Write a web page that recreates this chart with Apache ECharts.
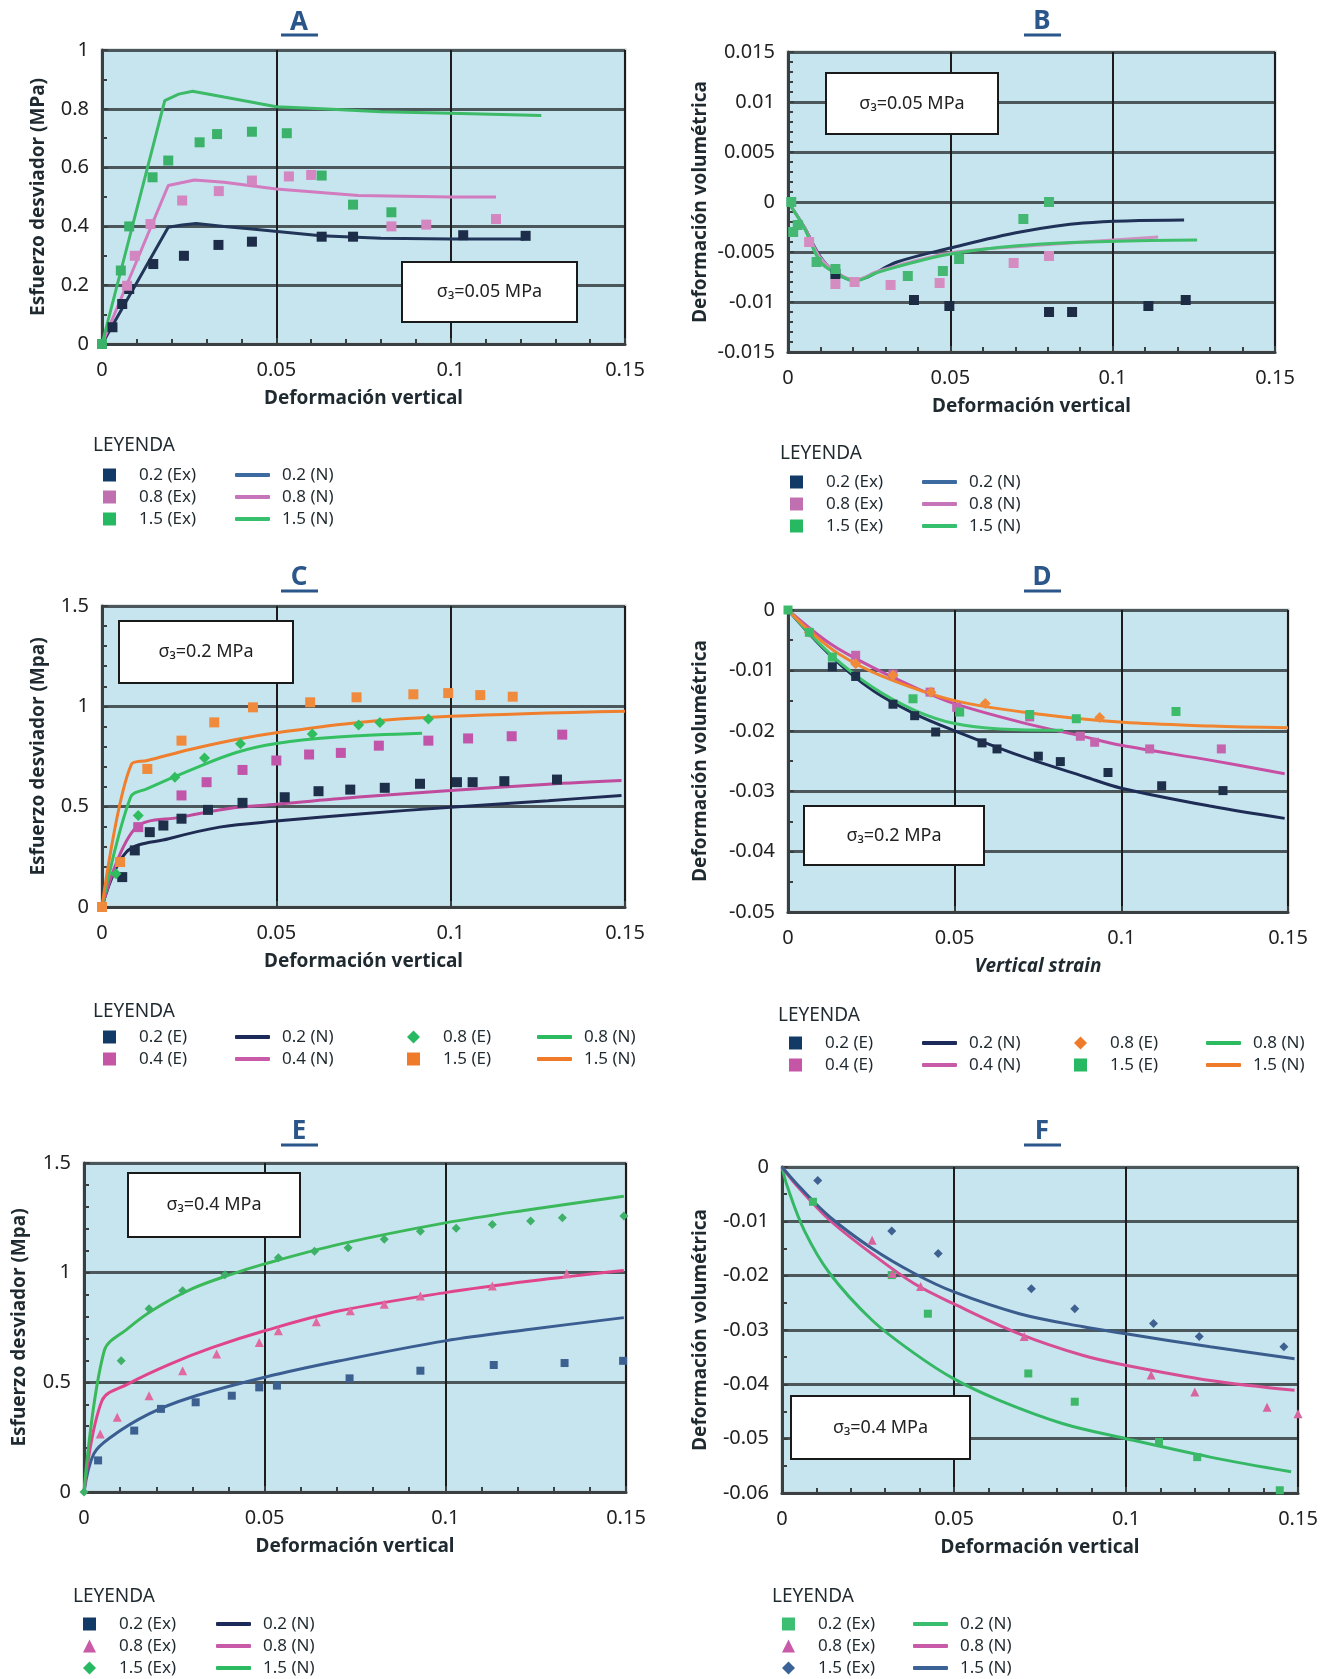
<!DOCTYPE html>
<html>
<head>
<meta charset="utf-8">
<script src="https://cdn.jsdelivr.net/npm/echarts@6/dist/echarts.min.js"></script>
<style>
  html, body { margin: 0; background: #fff; }
  #main { width: 1323px; height: 1679px; }
</style>
</head>
<body>
<div id="main"></div>
<script>
// ---------- tick values ----------
const xTicks = [0, 0.05, 0.1, 0.15];
const aYTicks = [0, 0.2, 0.4, 0.6, 0.8, 1];
const bYTicks = [-0.015, -0.01, -0.005, 0, 0.005, 0.01, 0.015];
const cYTicks = [0, 0.5, 1, 1.5];
const dYTicks = [-0.05, -0.04, -0.03, -0.02, -0.01, 0];
const eYTicks = [0, 0.5, 1, 1.5];
const fYTicks = [-0.06, -0.05, -0.04, -0.03, -0.02, -0.01, 0];

// ---------- A : deviator stress, s3 = 0.05 MPa ----------
const aEx02 = [[0.003,0.057],[0.0058,0.136],[0.0078,0.187],[0.0147,0.272],[0.0235,0.30],[0.0334,0.337],[0.043,0.348],[0.063,0.365],[0.072,0.365],[0.1036,0.37],[0.1215,0.368]];
const aEx08 = [[0.0072,0.198],[0.0094,0.30],[0.0139,0.408],[0.023,0.488],[0.0335,0.52],[0.043,0.556],[0.0536,0.57],[0.06,0.575],[0.083,0.40],[0.093,0.406],[0.113,0.425]];
const aEx15 = [[0,0],[0.0054,0.25],[0.0078,0.40],[0.0145,0.567],[0.019,0.624],[0.028,0.686],[0.033,0.714],[0.043,0.722],[0.053,0.717],[0.063,0.573],[0.072,0.474],[0.083,0.448]];
const aN02 = [[0,0],[0.019,0.397],[0.023,0.405],[0.027,0.41],[0.035,0.40],[0.043,0.391],[0.0627,0.368],[0.08,0.36],[0.1,0.357],[0.121,0.357]];
const aN08 = [[0,0],[0.019,0.539],[0.0265,0.558],[0.035,0.55],[0.05,0.527],[0.0735,0.505],[0.1,0.5],[0.113,0.5]];
const aN15 = [[0,0],[0.018,0.828],[0.022,0.85],[0.026,0.86],[0.035,0.84],[0.05,0.807],[0.063,0.80],[0.08,0.79],[0.1,0.785],[0.126,0.777]];

// ---------- B : volumetric strain, s3 = 0.05 MPa ----------
const bEx02 = [[0.0146,-0.0072],[0.0388,-0.0098],[0.0497,-0.0104],[0.0804,-0.011],[0.0875,-0.011],[0.111,-0.0104],[0.1225,-0.0098]];
const bEx08 = [[0.0065,-0.004],[0.0146,-0.0082],[0.0205,-0.008],[0.0316,-0.0083],[0.0467,-0.0081],[0.0695,-0.0061],[0.0804,-0.0054]];
const bEx15 = [[0.001,0],[0.0016,-0.003],[0.003,-0.0023],[0.0088,-0.006],[0.0146,-0.0067],[0.0369,-0.0074],[0.0477,-0.0069],[0.0527,-0.0057],[0.0725,-0.0017],[0.0804,0]];
const bN02 = [[0,0],[0.005,-0.0025],[0.01,-0.0055],[0.0153,-0.0072],[0.0205,-0.0078],[0.0336,-0.006],[0.05,-0.0046],[0.0715,-0.003],[0.091,-0.0021],[0.122,-0.0018]];
const bN08 = [[0,0],[0.005,-0.0025],[0.01,-0.0056],[0.0153,-0.0071],[0.0205,-0.0078],[0.028,-0.0069],[0.05,-0.0051],[0.078,-0.0043],[0.114,-0.0035]];
const bN15 = [[0,0],[0.005,-0.0026],[0.01,-0.006],[0.0153,-0.0072],[0.0205,-0.0079],[0.028,-0.007],[0.05,-0.0052],[0.078,-0.0042],[0.126,-0.0038]];

// ---------- C : deviator stress, s3 = 0.2 MPa ----------
const cE02 = [[0.0058,0.149],[0.0094,0.282],[0.0137,0.373],[0.0176,0.406],[0.0228,0.44],[0.0304,0.484],[0.0403,0.519],[0.0524,0.547],[0.0621,0.577],[0.0712,0.585],[0.0811,0.594],[0.0912,0.614],[0.1018,0.622],[0.1063,0.622],[0.1154,0.627],[0.1305,0.635]];
const cE04 = [[0.0104,0.398],[0.0228,0.556],[0.030,0.622],[0.0403,0.683],[0.050,0.73],[0.0594,0.76],[0.0685,0.768],[0.0794,0.804],[0.0936,0.829],[0.105,0.84],[0.1175,0.851],[0.132,0.859]];
const cE08 = [[0.004,0.166],[0.0104,0.456],[0.0209,0.647],[0.0294,0.743],[0.0397,0.813],[0.0603,0.862],[0.0736,0.907],[0.0797,0.92],[0.0936,0.937]];
const cE15 = [[0,0],[0.0052,0.224],[0.013,0.688],[0.0228,0.829],[0.0322,0.92],[0.0433,0.995],[0.0597,1.02],[0.073,1.045],[0.0893,1.06],[0.0993,1.066],[0.1085,1.056],[0.1178,1.048]];
const cN02 = [[0,0],[0.007,0.274],[0.0191,0.34],[0.0337,0.398],[0.05,0.428],[0.0748,0.465],[0.1,0.497],[0.128,0.53],[0.149,0.556]];
const cN04 = [[0,0],[0.0094,0.39],[0.0228,0.448],[0.036,0.49],[0.05,0.512],[0.0736,0.548],[0.1,0.58],[0.128,0.612],[0.149,0.63]];
const cN08 = [[0,0],[0.0082,0.547],[0.013,0.59],[0.025,0.68],[0.0385,0.77],[0.05,0.815],[0.0676,0.847],[0.0918,0.866]];
const cN15 = [[0,0],[0.0085,0.713],[0.013,0.73],[0.0252,0.785],[0.0385,0.835],[0.05,0.868],[0.0736,0.92],[0.1,0.95],[0.15,0.975]];

// ---------- D : volumetric strain, s3 = 0.2 MPa ----------
const dE02 = [[0.0133,-0.0094],[0.0203,-0.011],[0.0315,-0.0156],[0.038,-0.0175],[0.0443,-0.0202],[0.0582,-0.022],[0.0627,-0.023],[0.0751,-0.0242],[0.0817,-0.0251],[0.096,-0.0269],[0.1121,-0.0291],[0.1305,-0.0299]];
const dE04 = [[0.0203,-0.0075],[0.0315,-0.0106],[0.0426,-0.0136],[0.0506,-0.0161],[0.0725,-0.0177],[0.0877,-0.0209],[0.092,-0.0219],[0.1085,-0.023],[0.130,-0.023]];
const dE08 = [[0.0064,-0.0037],[0.0203,-0.0089],[0.0315,-0.0108],[0.0429,-0.0136],[0.0592,-0.0155],[0.0935,-0.0178]];
const dE15 = [[0,0],[0.0064,-0.0037],[0.0133,-0.0078],[0.0375,-0.0147],[0.0515,-0.0169],[0.0725,-0.0173],[0.0865,-0.018],[0.1164,-0.0168]];
const dN02 = [[0,0],[0.0127,-0.0075],[0.0254,-0.0133],[0.038,-0.0172],[0.05,-0.020],[0.07,-0.0242],[0.089,-0.0276],[0.1,-0.0295],[0.127,-0.0325],[0.149,-0.0345]];
const dN04 = [[0,0],[0.0127,-0.0056],[0.0254,-0.0095],[0.038,-0.0128],[0.05,-0.0155],[0.07,-0.0186],[0.089,-0.021],[0.1,-0.0224],[0.127,-0.0249],[0.149,-0.0271]];
const dN08 = [[0,0],[0.0127,-0.0073],[0.0254,-0.0128],[0.038,-0.0166],[0.05,-0.0188],[0.0636,-0.0197],[0.0826,-0.0199]];
const dN15 = [[0,0],[0.0064,-0.0034],[0.0153,-0.0073],[0.028,-0.0109],[0.05,-0.015],[0.0763,-0.0173],[0.1005,-0.0186],[0.127,-0.0192],[0.15,-0.0195]];

// ---------- E : deviator stress, s3 = 0.4 MPa ----------
const eEx02 = [[0.0039,0.144],[0.0139,0.28],[0.0213,0.379],[0.0309,0.409],[0.0409,0.439],[0.0485,0.477],[0.0534,0.485],[0.0735,0.518],[0.0931,0.553],[0.1134,0.579],[0.133,0.588],[0.1492,0.598]];
const eEx08 = [[0.0045,0.265],[0.0092,0.341],[0.018,0.439],[0.0273,0.553],[0.0367,0.629],[0.0485,0.682],[0.0538,0.735],[0.0643,0.776],[0.0737,0.826],[0.0831,0.856],[0.0931,0.894],[0.113,0.939],[0.1336,0.995]];
const eEx15 = [[0,0],[0.0103,0.598],[0.018,0.836],[0.0273,0.917],[0.039,0.99],[0.0538,1.068],[0.0638,1.098],[0.0731,1.114],[0.0831,1.152],[0.0931,1.189],[0.103,1.202],[0.113,1.22],[0.1236,1.235],[0.1324,1.25],[0.1494,1.258]];
const eN02 = [[0,0],[0.0027,0.174],[0.0074,0.25],[0.018,0.356],[0.0297,0.432],[0.05,0.523],[0.0708,0.598],[0.1,0.689],[0.1236,0.742],[0.1494,0.795]];
const eN08 = [[0,0],[0.005,0.417],[0.0121,0.492],[0.0238,0.583],[0.0356,0.659],[0.05,0.735],[0.0708,0.826],[0.1,0.909],[0.1236,0.962],[0.1494,1.01]];
const eN15 = [[0,0],[0.0056,0.644],[0.0121,0.745],[0.0191,0.83],[0.0297,0.925],[0.0403,0.99],[0.05,1.04],[0.0708,1.13],[0.1,1.227],[0.1236,1.288],[0.1494,1.348]];

// ---------- F : volumetric strain, s3 = 0.4 MPa ----------
const fEx02 = [[0.009,-0.0064],[0.0319,-0.0199],[0.0424,-0.027],[0.0716,-0.038],[0.0851,-0.0432],[0.1096,-0.0506],[0.1207,-0.0534],[0.1447,-0.0595]];
const fEx08 = [[0.0262,-0.0135],[0.0321,-0.0196],[0.0403,-0.022],[0.0704,-0.0312],[0.1073,-0.0383],[0.12,-0.0414],[0.141,-0.0442],[0.15,-0.0454]];
const fEx15 = [[0.0104,-0.0025],[0.0319,-0.0118],[0.0454,-0.0159],[0.0725,-0.0224],[0.0851,-0.0261],[0.108,-0.0288],[0.1213,-0.0312],[0.1459,-0.0331]];
const fN02 = [[0,0],[0.0016,-0.0037],[0.0065,-0.0117],[0.0139,-0.0196],[0.0262,-0.0282],[0.0385,-0.0343],[0.05,-0.039],[0.063,-0.0429],[0.0815,-0.0472],[0.1,-0.05],[0.1245,-0.0534],[0.148,-0.0561]];
const fN08 = [[0,0],[0.004,-0.0032],[0.0139,-0.0098],[0.0262,-0.016],[0.0385,-0.0215],[0.05,-0.0252],[0.069,-0.0307],[0.0876,-0.0347],[0.1,-0.0365],[0.1245,-0.0393],[0.149,-0.0411]];
const fN15 = [[0,0],[0.0053,-0.0038],[0.0139,-0.0092],[0.0262,-0.015],[0.0385,-0.0196],[0.05,-0.023],[0.069,-0.027],[0.0876,-0.0294],[0.1,-0.0307],[0.1245,-0.0331],[0.149,-0.0353]];

// ---------- layout ----------
const FONT = 'Noto Sans';
const INK = '#1f2a30';
const TITLE_BLUE = '#2a568a';

const panels = [
  { key: 'A', grid: [102, 50, 523, 294], yTicks: aYTicks, yMinor: 2, xMinor: 5, xName: 'Deformación vertical', yName: 'Esfuerzo desviador (MPa)', yGap: 54 },
  { key: 'B', grid: [788, 52, 487, 300], yTicks: bYTicks, yMinor: 5, xMinor: 5, xName: 'Deformación vertical', yName: 'Deformación volumétrica', yGap: 78 },
  { key: 'C', grid: [102, 606, 523, 301], yTicks: cYTicks, yMinor: 5, xMinor: 0, xName: 'Deformación vertical', yName: 'Esfuerzo desviador (Mpa)', yGap: 54 },
  { key: 'D', grid: [788, 610, 500, 302], yTicks: dYTicks, yMinor: 2, xMinor: 0, xName: 'Vertical strain', italic: true, yName: 'Deformación volumétrica', yGap: 78 },
  { key: 'E', grid: [84, 1163, 542, 329], yTicks: eYTicks, yMinor: 5, xMinor: 5, xName: 'Deformación vertical', yName: 'Esfuerzo desviador (Mpa)', yGap: 55 },
  { key: 'F', grid: [782, 1167, 516, 326], yTicks: fYTicks, yMinor: 2, xMinor: 5, xName: 'Deformación vertical', yName: 'Deformación volumétrica', yGap: 72 }
];

const axisDark = '#3a3f42';

const grids = panels.map(p => ({
  left: p.grid[0], top: p.grid[1], width: p.grid[2], height: p.grid[3],
  show: true, backgroundColor: '#c7e5ee', borderColor: '#c2cacc', borderWidth: 3
}));

const xAxes = panels.map((p, i) => ({
  type: 'value', gridIndex: i,
  min: xTicks[0], max: xTicks[xTicks.length - 1], interval: +(xTicks[1] - xTicks[0]).toFixed(6),
  name: p.xName, nameLocation: 'middle', nameGap: 45,
  nameTextStyle: { fontFamily: FONT, fontSize: 19, fontWeight: 'bold', fontStyle: p.italic ? 'italic' : 'normal', color: INK },
  axisLine: { onZero: false, lineStyle: { color: axisDark, width: 3 } },
  axisTick: { show: true, inside: true, length: 6, lineStyle: { color: axisDark, width: 2 } },
  minorTick: { show: p.xMinor > 0, splitNumber: p.xMinor || 5, length: 5, lineStyle: { color: axisDark, width: 2 } },
  axisLabel: { margin: 16, fontFamily: FONT, fontSize: 20, color: '#222' },
  splitLine: { show: true, lineStyle: { color: '#1c1c1c', width: 2 } }
}));

const yAxes = panels.map((p, i) => ({
  type: 'value', gridIndex: i,
  min: p.yTicks[0], max: p.yTicks[p.yTicks.length - 1], interval: +(p.yTicks[1] - p.yTicks[0]).toFixed(6),
  name: p.yName, nameLocation: 'middle', nameGap: p.yGap, nameRotate: 90,
  nameTextStyle: { fontFamily: FONT, fontSize: 19, fontWeight: 'bold', color: INK },
  axisLine: { onZero: false, lineStyle: { color: axisDark, width: 3 } },
  axisTick: { show: true, inside: true, length: 6, lineStyle: { color: axisDark, width: 2 } },
  minorTick: { show: true, splitNumber: p.yMinor, length: 5, lineStyle: { color: axisDark, width: 2 } },
  axisLabel: { margin: 13, fontFamily: FONT, fontSize: 20, color: '#222' },
  splitLine: { show: true, lineStyle: { color: '#4c575b', width: 3 } }
}));

// ---------- series ----------
function pts(g, label, data, color, symbol, size) {
  return { type: 'scatter', name: panels[g].key + '|' + label, xAxisIndex: g, yAxisIndex: g,
    data: data, symbol: symbol, symbolSize: size, itemStyle: { color: color, opacity: 1 }, z: 3 };
}
function curve(g, label, data, color, smooth) {
  return { type: 'line', name: panels[g].key + '|' + label, xAxisIndex: g, yAxisIndex: g,
    data: data, symbol: 'none', showSymbol: false, smooth: smooth,
    lineStyle: { color: color, width: 3 }, itemStyle: { color: color }, z: 2 };
}

const S = 0.35;
const series = [
  // A
  curve(0, '0.2 (N)', aN02, '#22365a', false),
  curve(0, '0.8 (N)', aN08, '#d27bbf', false),
  curve(0, '1.5 (N)', aN15, '#3cba68', false),
  pts(0, '0.2 (Ex)', aEx02, '#1d2c48', 'rect', 10),
  pts(0, '0.8 (Ex)', aEx08, '#d386c0', 'rect', 10),
  pts(0, '1.5 (Ex)', aEx15, '#3ab26a', 'rect', 10),
  // B
  curve(1, '0.2 (N)', bN02, '#203258', S),
  curve(1, '0.8 (N)', bN08, '#cf8fc2', S),
  curve(1, '1.5 (N)', bN15, '#3fbf6c', S),
  pts(1, '0.2 (Ex)', bEx02, '#1d2c45', 'rect', 10),
  pts(1, '0.8 (Ex)', bEx08, '#d58cc0', 'rect', 10),
  pts(1, '1.5 (Ex)', bEx15, '#44b872', 'rect', 10),
  // C
  curve(2, '0.2 (N)', cN02, '#1f2b52', S),
  curve(2, '0.4 (N)', cN04, '#c04a9c', S),
  curve(2, '0.8 (N)', cN08, '#34c062', S),
  curve(2, '1.5 (N)', cN15, '#ef7f2d', S),
  pts(2, '0.2 (E)', cE02, '#1e2f4a', 'rect', 10),
  pts(2, '0.4 (E)', cE04, '#c055aa', 'rect', 10),
  pts(2, '0.8 (E)', cE08, '#2fbd5f', 'diamond', 11),
  pts(2, '1.5 (E)', cE15, '#f08a3c', 'rect', 10),
  // D
  curve(3, '0.2 (N)', dN02, '#1e2d55', S),
  curve(3, '0.4 (N)', dN04, '#c850a4', S),
  curve(3, '0.8 (N)', dN08, '#3fc26c', S),
  curve(3, '1.5 (N)', dN15, '#f0842f', S),
  pts(3, '0.2 (E)', dE02, '#1e2f4a', 'rect', 9),
  pts(3, '0.4 (E)', dE04, '#c465ae', 'rect', 9),
  pts(3, '0.8 (E)', dE08, '#f08a3a', 'diamond', 11),
  pts(3, '1.5 (E)', dE15, '#3cbc6a', 'rect', 9),
  // E
  curve(4, '0.2 (N)', eN02, '#3b5e92', S),
  curve(4, '0.8 (N)', eN08, '#e0458c', S),
  curve(4, '1.5 (N)', eN15, '#3bb95a', S),
  pts(4, '0.2 (Ex)', eEx02, '#3c6190', 'rect', 8),
  pts(4, '0.8 (Ex)', eEx08, '#e06aa0', 'triangle', 9),
  pts(4, '1.5 (Ex)', eEx15, '#3cb167', 'diamond', 9),
  // F
  curve(5, '0.2 (N)', fN02, '#35b866', S),
  curve(5, '0.8 (N)', fN08, '#d64f94', S),
  curve(5, '1.5 (N)', fN15, '#3b5d8e', S),
  pts(5, '0.2 (Ex)', fEx02, '#3cb868', 'rect', 8),
  pts(5, '0.8 (Ex)', fEx08, '#d8649e', 'triangle', 9),
  pts(5, '1.5 (Ex)', fEx15, '#3f6192', 'diamond', 9)
];

// ---------- legends ----------
function legendCol(key, left, rowTop, labels, colors, icons, isLine) {
  return {
    left: left, top: rowTop - 11, orient: 'vertical', padding: 0, itemGap: 0,
    selectedMode: false,
    itemWidth: isLine ? 35 : 13, itemHeight: isLine ? 4 : 13,
    icon: isLine ? 'roundRect' : 'rect',
    data: labels.map((l, i) => ({ name: key + '|' + l, icon: icons ? icons[i] : undefined, itemStyle: { color: colors[i] } })),
    formatter: n => n.split('|')[1],
    textStyle: { fontFamily: FONT, fontSize: 17, color: INK, lineHeight: 22, padding: [0, 0, 0, isLine ? 7 : 18] }
  };
}
const exLabels = ['0.2 (Ex)', '0.8 (Ex)', '1.5 (Ex)'];
const nLabels = ['0.2 (N)', '0.8 (N)', '1.5 (N)'];
const legends = [
  legendCol('A', 103, 475, exLabels, ['#123a66', '#c070b0', '#27b862'], null, false),
  legendCol('A', 235, 475, nLabels, ['#3d6aa0', '#c775ba', '#36c06e'], null, true),
  legendCol('B', 790, 482, exLabels, ['#123a66', '#c070b0', '#27b862'], null, false),
  legendCol('B', 922, 482, nLabels, ['#3d6aa0', '#c775ba', '#36c06e'], null, true),
  legendCol('C', 103, 1037, ['0.2 (E)', '0.4 (E)'], ['#123a66', '#c555a5'], null, false),
  legendCol('C', 235, 1037, ['0.2 (N)', '0.4 (N)'], ['#1c2a5a', '#c85aa8'], null, true),
  legendCol('C', 407, 1037, ['0.8 (E)', '1.5 (E)'], ['#27b862', '#ef7b2a'], ['diamond', 'rect'], false),
  legendCol('C', 537, 1037, ['0.8 (N)', '1.5 (N)'], ['#2dbb62', '#ef7b2a'], null, true),
  legendCol('D', 789, 1043, ['0.2 (E)', '0.4 (E)'], ['#123a66', '#c555a5'], null, false),
  legendCol('D', 922, 1043, ['0.2 (N)', '0.4 (N)'], ['#1c2a5a', '#c85aa8'], null, true),
  legendCol('D', 1074, 1043, ['0.8 (E)', '1.5 (E)'], ['#ef7b2a', '#27b862'], ['diamond', 'rect'], false),
  legendCol('D', 1206, 1043, ['0.8 (N)', '1.5 (N)'], ['#2dbb62', '#ef7b2a'], null, true),
  legendCol('E', 83, 1624, exLabels, ['#123a66', '#c95aa8', '#27b862'], ['rect', 'triangle', 'diamond'], false),
  legendCol('E', 216, 1624, nLabels, ['#1c2a5a', '#c85aa8', '#2dbb62'], null, true),
  legendCol('F', 782, 1624, exLabels, ['#3cbf72', '#c95aa8', '#3a6296'], ['rect', 'triangle', 'diamond'], false),
  legendCol('F', 913, 1624, nLabels, ['#38bf6e', '#c85aa8', '#3a6296'], null, true)
];

// ---------- annotations ----------
const letters = [['A', 299, 23, 35], ['B', 1042, 22, 35], ['C', 299, 578, 591], ['D', 1042, 578, 591], ['E', 299, 1132, 1145], ['F', 1042, 1132, 1145]];
const leyendas = [[93, 446], [780, 454], [93, 1012], [778, 1016], [73, 1597], [772, 1597]];
const boxes = [
  [402, 262, 175, 60, '\u03c3\u2083=0.05 MPa'],
  [826, 73, 172, 61, '\u03c3\u2083=0.05 MPa'],
  [119, 621, 174, 62, '\u03c3\u2083=0.2 MPa'],
  [804, 806, 180, 59, '\u03c3\u2083=0.2 MPa'],
  [128, 1173, 172, 64, '\u03c3\u2083=0.4 MPa'],
  [791, 1396, 179, 63, '\u03c3\u2083=0.4 MPa']
];

const graphics = [];
letters.forEach(([t, x, y, uy]) => {
  graphics.push({ type: 'text', x: x, y: y, z: 100,
    style: { text: t, font: 'bold 26px "' + FONT + '"', fill: TITLE_BLUE, textAlign: 'center', align: 'center', textVerticalAlign: 'middle', verticalAlign: 'middle' } });
  graphics.push({ type: 'rect', z: 100, shape: { x: x - 18, y: uy - 1.5, width: 37, height: 3 }, style: { fill: TITLE_BLUE } });
});
leyendas.forEach(([x, y]) => {
  graphics.push({ type: 'text', x: x, y: y, z: 100,
    style: { text: 'LEYENDA', font: '19px "' + FONT + '"', fill: INK, textAlign: 'left', align: 'left', textVerticalAlign: 'middle', verticalAlign: 'middle' } });
});
boxes.forEach(([x, y, w, h, t]) => {
  graphics.push({ type: 'rect', z: 100, shape: { x: x, y: y, width: w, height: h }, style: { fill: '#fff', stroke: '#1a1a1a', lineWidth: 2 } });
  graphics.push({ type: 'text', z: 101, x: x + w / 2, y: y + h / 2,
    style: { text: t, font: '18px "' + FONT + '"', fill: '#222', textAlign: 'center', align: 'center', textVerticalAlign: 'middle', verticalAlign: 'middle' } });
});

const chart = echarts.init(document.getElementById('main'));
chart.setOption({
  animation: false,
  backgroundColor: '#fff',
  grid: grids,
  xAxis: xAxes,
  yAxis: yAxes,
  legend: legends,
  series: series,
  graphic: { elements: graphics }
});
</script>
</body>
</html>
